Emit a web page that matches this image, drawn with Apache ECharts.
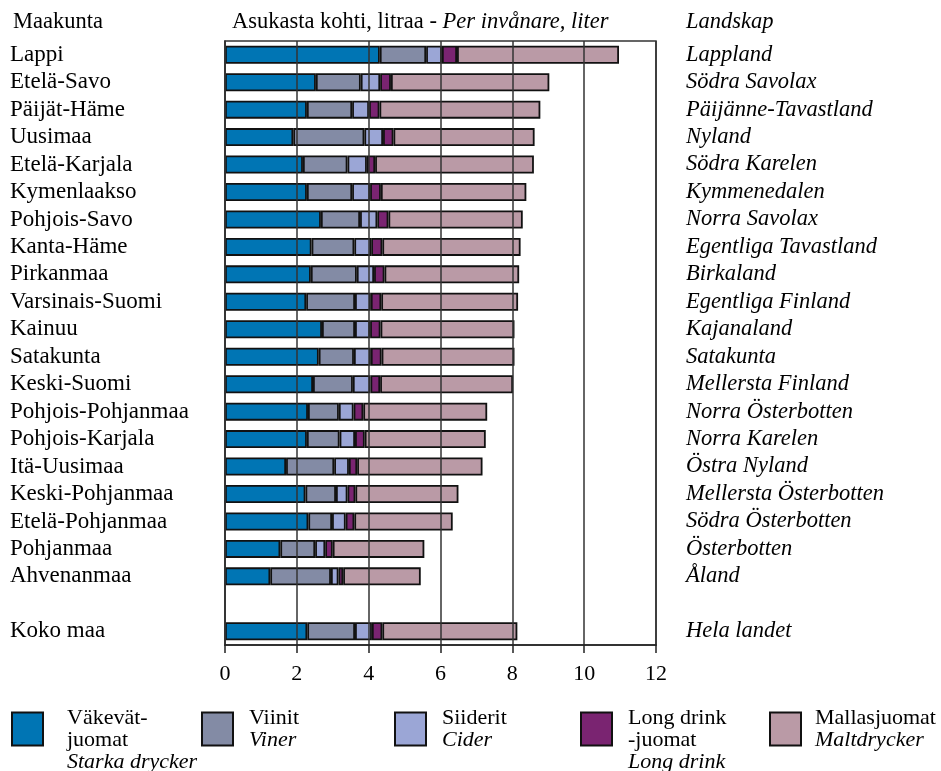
<!DOCTYPE html>
<html><head><meta charset="utf-8">
<script src="https://cdn.jsdelivr.net/npm/echarts@6/dist/echarts.min.js"></script>
<style>html,body{margin:0;padding:0;background:#fff}#c{width:941px;height:771px}</style>
</head><body><div id="c"></div>
<script>
const regions = ['Lappi','Etelä-Savo','Päijät-Häme','Uusimaa','Etelä-Karjala','Kymenlaakso','Pohjois-Savo','Kanta-Häme','Pirkanmaa','Varsinais-Suomi','Kainuu','Satakunta','Keski-Suomi','Pohjois-Pohjanmaa','Pohjois-Karjala','Itä-Uusimaa','Keski-Pohjanmaa','Etelä-Pohjanmaa','Pohjanmaa','Ahvenanmaa','','Koko maa'];
const landskap = ['Lappland','Södra Savolax','Päijänne-Tavastland','Nyland','Södra Karelen','Kymmenedalen','Norra Savolax','Egentliga Tavastland','Birkaland','Egentliga Finland','Kajanaland','Satakunta','Mellersta Finland','Norra Österbotten','Norra Karelen','Östra Nyland','Mellersta Österbotten','Södra Österbotten','Österbotten','Åland','','Hela landet'];
const spirits = [4.31,2.53,2.28,1.90,2.17,2.28,2.67,2.41,2.39,2.26,2.70,2.61,2.45,2.31,2.28,1.70,2.24,2.32,1.54,1.26,null,2.29];
const wines   = [1.29,1.25,1.26,1.98,1.24,1.26,1.09,1.19,1.28,1.36,0.92,0.98,1.11,0.86,0.91,1.34,0.85,0.66,0.97,1.69,null,1.33];
const cider   = [0.44,0.54,0.47,0.52,0.54,0.50,0.48,0.47,0.48,0.44,0.42,0.47,0.49,0.41,0.43,0.41,0.32,0.38,0.28,0.21,null,0.47];
const longdrink = [0.42,0.30,0.29,0.29,0.23,0.30,0.31,0.31,0.29,0.29,0.29,0.30,0.27,0.27,0.27,0.23,0.22,0.24,0.21,0.13,null,0.29];
const malt    = [4.51,4.41,4.48,3.93,4.42,4.05,3.74,3.85,3.75,3.81,3.73,3.70,3.70,3.45,3.37,3.49,2.87,2.74,2.55,2.16,null,3.76];
const xTicks = [0,2,4,6,8,10,12];

const names = ['spirits','wines','cider','longdrink','malt'];
const legendText = [
  '{a|Väkevät-}\n{a|juomat}\n{b|Starka drycker}',
  '{a|Viinit}\n{b|Viner}',
  '{a|Siiderit}\n{b|Cider}',
  '{a|Long drink}\n{a|-juomat}\n{b|Long drink}',
  '{a|Mallasjuomat}\n{b|Maltdrycker}'
];
const colors = ['#0075b4','#838ba5','#9ba6d6','#7a2471','#ba9aa6'];
const dataArr = [spirits,wines,cider,longdrink,malt];
const legendLeft = [6,196,389,575,764];
const legendGap = [19,11,11,11,9];
const FONT = '"Liberation Serif", "DejaVu Serif", serif';
const FS = 22;

const chart = echarts.init(document.getElementById('c'), null, {renderer:'canvas'});
const rich = {
  a:{fontFamily:FONT,fontSize:FS,fontWeight:'normal',color:'#000',lineHeight:22},
  b:{fontFamily:FONT,fontSize:FS,fontWeight:'normal',fontStyle:'italic',color:'#000',lineHeight:22}
};
const richH = {
  a:{fontFamily:FONT,fontSize:22.5,fontWeight:'normal',color:'#000',lineHeight:22},
  b:{fontFamily:FONT,fontSize:22.5,fontWeight:'normal',fontStyle:'italic',color:'#000',lineHeight:22}
};
const option = {
  backgroundColor:'#fff',
  animation:false,
  title:[
    {text:'{a|Maakunta}',left:8,top:6,textStyle:{fontWeight:'normal',rich:richH}},
    {text:'{a|Asukasta kohti, litraa - }{b|Per invånare, liter}',left:227,top:6,textStyle:{fontWeight:'normal',rich:richH}},
    {text:'{b|Landskap}',left:681,top:6,textStyle:{fontWeight:'normal',rich:richH}}
  ],
  legend: names.map((n,i)=>({
    data:[n], left:legendLeft[i], top:702, orient:'horizontal',
    itemWidth:31, itemHeight:33, itemGap:0, icon:'rect',
    selectedMode:false,
    formatter:()=>legendText[i],
    textStyle:{rich:rich, padding: legendText[i].split('\n').length===3 ? [22,0,0,legendGap[i]] : [0,0,0,legendGap[i]]}
  })),
  grid:{left:225,right:285,top:41,bottom:126,show:true,borderColor:'#333',borderWidth:1.5,z:10},
  xAxis:{type:'value',min:0,max:12,interval:2,z:10,
    axisLine:{show:true,lineStyle:{color:'#222',width:1.5}},
    axisTick:{show:true,length:8,lineStyle:{color:'#222',width:1.5}},
    axisLabel:{fontFamily:FONT,fontSize:FS,color:'#000',margin:18,formatter:v=>xTicks.includes(v)?String(v):''},
    splitLine:{show:true,lineStyle:{color:'#333',width:1.5}}
  },
  yAxis:[
    {type:'category',data:regions,inverse:true,position:'left',
      axisLine:{show:true,lineStyle:{color:'#222',width:1.5}},axisTick:{show:false},
      axisLabel:{interval:0,hideOverlap:false,align:'left',margin:215,fontFamily:FONT,fontSize:23,color:'#000'}},
    {type:'category',data:landskap,inverse:true,position:'right',
      axisLine:{show:false},axisTick:{show:false},
      axisLabel:{interval:0,hideOverlap:false,align:'left',margin:30,fontFamily:FONT,fontSize:22.5,fontStyle:'italic',color:'#000'}}
  ],
  series: names.map((n,i)=>({
    name:n,type:'bar',stack:'total',yAxisIndex:0,barWidth:18,
    data:dataArr[i],
    itemStyle:{color:colors[i],borderColor:'#111',borderWidth:1.8},
    emphasis:{disabled:true}
  }))
};
chart.setOption(option);
</script></body></html>
